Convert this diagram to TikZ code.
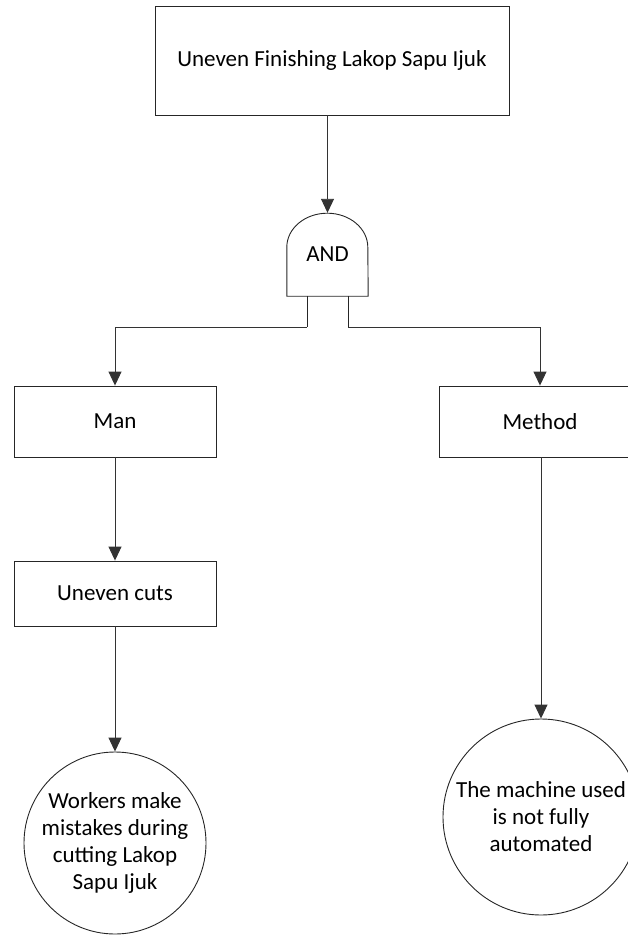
\documentclass[tikz,border=0pt]{standalone}
\usepackage{fontspec}
\setmainfont{Carlito}
\usetikzlibrary{arrows.meta}
\begin{document}
\begin{tikzpicture}[x=1pt,y=-1pt,
  every node/.style={font=\fontsize{23}{27}\selectfont, text=black},
  box/.style={draw=black!85, line width=0.9pt, rectangle, inner sep=0pt},
  evcircle/.style={draw=black!85, line width=0.9pt, circle, inner sep=0pt, align=center},
  arr/.style={draw=black!80, line width=0.9pt, -{Triangle[width=13pt,length=14pt]}},
  gate/.style={draw=black!85, line width=0.9pt}]
\useasboundingbox (0,0) rectangle (627,935);

\node[box, minimum width=354pt, minimum height=109pt] (top) at (332,60.5) {Uneven Finishing Lakop Sapu Ijuk};

\node[inner sep=0pt, minimum width=81pt, minimum height=83pt] (and) at (327.5,254.5) {AND};
\draw[gate] (and.south west) -- ++(0,-49) arc[start angle=180, end angle=0, x radius=40.5pt, y radius=34pt] -- (and.south east) -- cycle;

\coordinate (legL) at (307,296);
\coordinate (legR) at (348,296);
\coordinate (jL) at (307,327);
\coordinate (jR) at (348,327);

\node[box, minimum width=202pt, minimum height=71pt] (man) at (115,421.5) {Man};
\node[box, minimum width=202pt, minimum height=71pt] (method) at (540,421.5) {Method};
\node[box, minimum width=202pt, minimum height=65pt] (cuts) at (115,593.5) {Uneven cuts};

\node[evcircle, minimum size=182pt] (workers) at (115,843) {Workers make\\mistakes during\\cutting Lakop\\Sapu Ijuk};
\node[evcircle, minimum size=196pt] (machine) at (541,817) {The machine used\\is not fully\\automated};

\draw[arr] (and.north |- top.south) -- (and.north);
\draw[gate] (legL) -- (jL);
\draw[gate] (legR) -- (jR);
\draw[arr] (jL) -| (man.north);
\draw[arr] (jR) -| (method.north);
\draw[arr] (man.south) -- (cuts.north);
\draw[arr] (cuts.south) -- (workers.north);
\draw[arr] (method.south -| machine.north) -- (machine.north);
\end{tikzpicture}
\end{document}
